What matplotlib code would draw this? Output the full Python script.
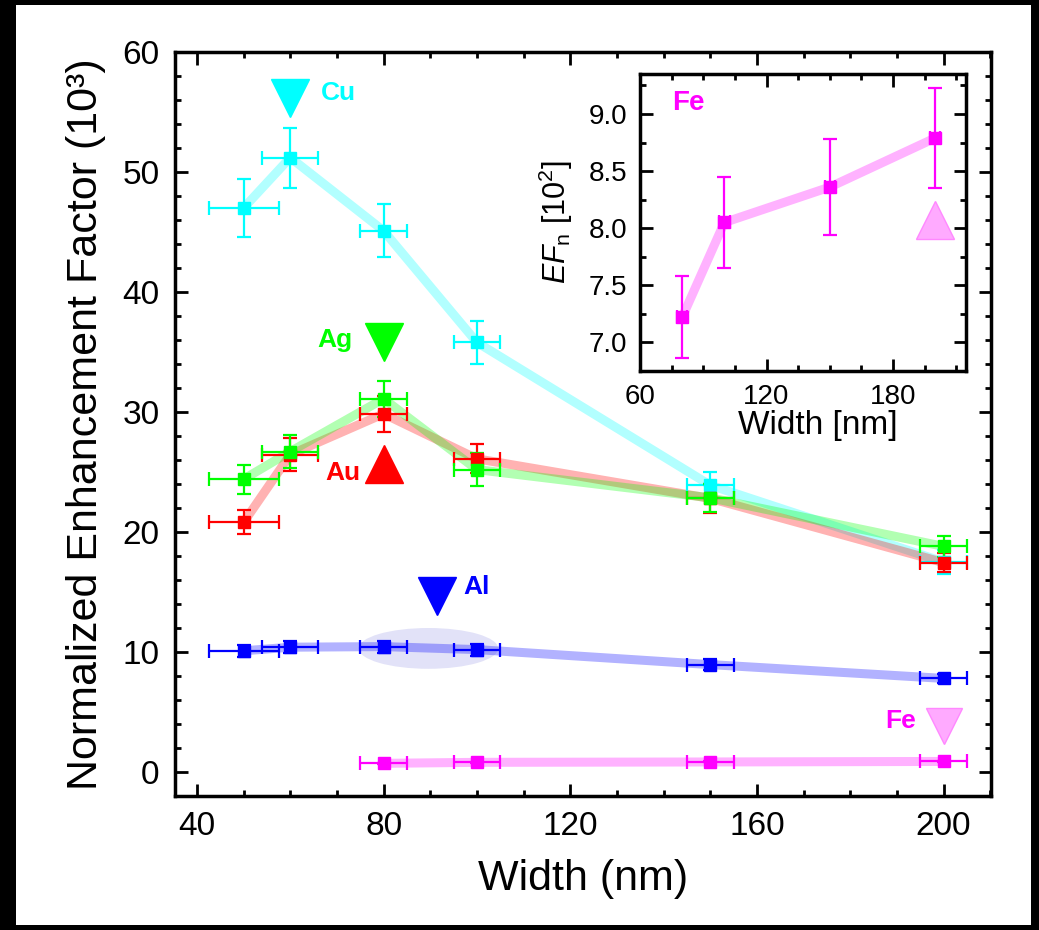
import matplotlib
matplotlib.use('Agg')
import matplotlib.pyplot as plt
from matplotlib.patches import Ellipse, Rectangle
from matplotlib.ticker import MultipleLocator, FormatStrFormatter

plt.rcParams['font.family'] = ['Liberation Sans', 'DejaVu Sans']
plt.rcParams['mathtext.fontset'] = 'custom'
plt.rcParams['mathtext.rm'] = 'Liberation Sans'
plt.rcParams['mathtext.it'] = 'Liberation Sans:italic'

# widths (nm)
w_cu = [50, 60, 80, 100, 150, 200]
ef_cu = [47.0, 51.2, 45.1, 35.8, 23.9, 17.5]
ey_cu = [2.4, 2.5, 2.2, 1.8, 1.1, 1.0]
ex_cu = [7.5, 6.0, 5.0, 5.0, 5.0, 5.0]

w_ag = [50, 60, 80, 100, 150, 200]
ef_ag = [24.4, 26.7, 31.1, 25.2, 22.85, 18.8]
ey_ag = [1.2, 1.35, 1.5, 1.4, 1.15, 0.9]
ex_ag = [7.5, 6.0, 5.0, 5.0, 5.0, 5.0]

w_au = [50, 60, 80, 100, 150, 200]
ef_au = [20.8, 26.45, 29.85, 26.1, 22.8, 17.45]
ey_au = [1.0, 1.35, 1.5, 1.2, 1.2, 0.8]
ex_au = [7.5, 6.0, 5.0, 5.0, 5.0, 5.0]

w_al = [50, 60, 80, 100, 150, 200]
ef_al = [10.1, 10.4, 10.45, 10.2, 8.95, 7.8]
ey_al = [0.5, 0.5, 0.5, 0.5, 0.45, 0.4]
ex_al = [7.5, 6.0, 5.0, 5.0, 5.0, 5.0]

w_fe = [80, 100, 150, 200]
ef_fe = [0.722, 0.805, 0.836, 0.879]      # 10^3
ey_fe = [0.036, 0.040, 0.042, 0.044]
ex_fe = [5.0, 5.0, 5.0, 5.0]

# inset (10^2)
ef_fe_in = [7.22, 8.05, 8.36, 8.79]
ey_fe_in = [0.36, 0.40, 0.42, 0.44]
ex_fe_in = [2.5, 2.5, 2.5, 2.5]

series = [
    (w_cu, ef_cu, ey_cu, ex_cu, '#00ffff'),
    (w_au, ef_au, ey_au, ex_au, '#ff0000'),
    (w_ag, ef_ag, ey_ag, ex_ag, '#00ff00'),
    (w_al, ef_al, ey_al, ex_al, '#0000ff'),
    (w_fe, ef_fe, ey_fe, ex_fe, '#ff00ff'),
]

fig = plt.figure(figsize=(10.39, 9.3), dpi=100)
ax = fig.add_axes([175 / 1039, 134 / 930, (990.7 - 175) / 1039, (796 - 52) / 930])


def style_axis(a, lw, major_len, minor_len, size, pad):
    for s in a.spines.values():
        s.set_linewidth(lw)
    a.tick_params(which='both', direction='in', top=True, right=True, width=2.0)
    a.tick_params(which='major', length=major_len, labelsize=size, pad=pad)
    a.tick_params(which='minor', length=minor_len)


ax.add_patch(Ellipse((89.6, 10.3), 29.9, 3.4, facecolor='#e2e2f8', edgecolor='none', zorder=0))

for xs, ys, ey, ex, c in series:
    ax.plot(xs, ys, color=c, alpha=0.3, lw=6.5, solid_capstyle='butt', zorder=1)
for xs, ys, ey, ex, c in series:
    ax.errorbar(xs, ys, yerr=ey, xerr=ex, fmt='s', color=c, ms=8, elinewidth=1.6,
                capsize=5, capthick=1.6, zorder=3)

# labels with triangles
ax.plot(60, 56.2, 'v', color='#00ffff', ms=28, zorder=4)
ax.text(66.5, 56.6, 'Cu', color='#00ffff', fontsize=19, fontweight='bold', va='center', ha='left')
ax.plot(80, 35.8, 'v', color='#00ff00', ms=28, zorder=4)
ax.text(73.4, 36.0, 'Ag', color='#00ff00', fontsize=19, fontweight='bold', va='center', ha='right')
ax.plot(80, 25.7, '^', color='#ff0000', ms=28, zorder=4)
ax.text(75.0, 24.9, 'Au', color='#ff0000', fontsize=19, fontweight='bold', va='center', ha='right')
ax.plot(91.5, 14.7, 'v', color='#0000ff', ms=28, zorder=4)
ax.text(97.0, 15.4, 'Al', color='#0000ff', fontsize=19, fontweight='bold', va='center', ha='left')
ax.plot(200, 3.85, 'v', color='#ffaaff', mec='#ff88ff', mew=1, ms=26, zorder=4)
ax.text(194, 4.25, 'Fe', color='#ff00ff', fontsize=19, fontweight='bold', va='center', ha='right')

ax.set_xlim(35.3, 210.1)
ax.set_ylim(-2.0, 60.0)
ax.xaxis.set_major_locator(MultipleLocator(40))
ax.xaxis.set_minor_locator(MultipleLocator(10))
ax.yaxis.set_major_locator(MultipleLocator(10))
ax.yaxis.set_minor_locator(MultipleLocator(2))
style_axis(ax, 2.5, 9, 4.5, 24, 11)
ax.set_xlabel('Width (nm)', fontsize=31, labelpad=12)
ax.set_ylabel('Normalized Enhancement Factor (10³)', fontsize=31, labelpad=12)

# inset
ins = fig.add_axes([640 / 1039, 559 / 930, (966 - 640) / 1039, (371 - 74) / 930])
ins.plot(w_fe, ef_fe_in, color='#ff00ff', alpha=0.3, lw=6.5, zorder=1)
ins.errorbar(w_fe, ef_fe_in, yerr=ey_fe_in, xerr=ex_fe_in, fmt='s', color='#ff00ff',
             ms=8, elinewidth=1.6, capsize=5, capthick=1.6, zorder=3)
ins.plot(200, 8.07, '^', color='#ffaaff', mec='#ff88ff', mew=1, ms=27, zorder=4)
ins.text(75.2, 9.1, 'Fe', color='#ff00ff', fontsize=20, fontweight='bold', va='center', ha='left')
ins.set_xlim(60, 214.6)
ins.set_ylim(6.75, 9.35)
ins.xaxis.set_major_locator(MultipleLocator(60))
ins.xaxis.set_minor_locator(MultipleLocator(15))
ins.yaxis.set_major_locator(MultipleLocator(0.5))
ins.yaxis.set_minor_locator(MultipleLocator(0.25))
ins.yaxis.set_major_formatter(FormatStrFormatter('%.1f'))
style_axis(ins, 2.5, 9, 4.5, 20, 9)
ins.set_xlabel('Width [nm]', fontsize=24)
ins.xaxis.set_label_coords(0.545, -0.13)
ins.set_ylabel(r'$\mathit{EF}_{\mathrm{n}}$ [10$^2$]', fontsize=22)
ins.yaxis.set_label_coords(-0.2, 0.5)

# black frame around the picture
for r in [(0, 0, 16 / 1039, 1), (0, 1 - 5 / 930, 1, 5 / 930),
          (1031 / 1039, 0, 8 / 1039, 1), (0, 0, 1, 5 / 930)]:
    fig.add_artist(Rectangle(r[:2], r[2], r[3], transform=fig.transFigure,
                             facecolor='black', edgecolor='none', zorder=10))

fig.savefig('out.png', dpi=100)
